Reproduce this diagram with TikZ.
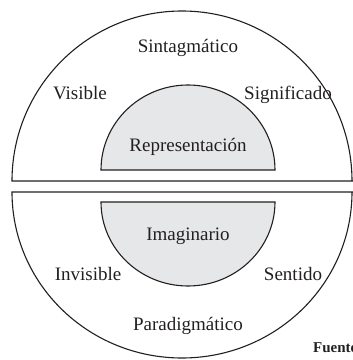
\documentclass[tikz,border=0pt]{standalone}
\usepackage{fontspec}
\setmainfont{Liberation Serif}
\definecolor{inkc}{HTML}{231F20}
\definecolor{fillgray}{HTML}{E6E7E8}
\tikzset{
  outline/.style={draw=inkc, line width=1.1pt},
  core/.style={draw=inkc, line width=1.1pt, fill=fillgray},
  lbl/.style={inner sep=0pt, anchor=base, text=inkc, font=\fontsize{19}{22}\selectfont},
  src/.style={inner sep=0pt, anchor=base west, text=inkc, font=\fontsize{15}{18}\selectfont\bfseries}
}
\begin{document}
\begin{tikzpicture}[x=1pt,y=1pt]
\useasboundingbox (0,0) rectangle (353,360);
\clip (0,0) rectangle (353,360);
% upper outer half disc
\draw[outline] (12,179) arc[start angle=180, end angle=0, radius=170] -- (360,179) -- cycle;
% lower outer half disc
\draw[outline] (12,168) arc[start angle=180, end angle=360, x radius=170, y radius=166] -- (360,168) -- cycle;
% inner grey halves
\draw[core] (101,190) arc[start angle=180, end angle=0, x radius=87, y radius=85] -- cycle;
\draw[core] (101,158) arc[start angle=180, end angle=360, x radius=87, y radius=84] -- cycle;
% labels
\node[lbl] (sint) at (188,308) {Sintagmático};
\node[lbl] (vis) at (80,261) {Visible};
\node[lbl] (sig) at (288,261) {Significado};
\node[lbl] (rep) at (188,209) {Representación};
\node[lbl] (ima) at (188,120) {Imaginario};
\node[lbl] (inv) at (88,80) {Invisible};
\node[lbl] (sen) at (293,80) {Sentido};
\node[lbl] (par) at (188,30) {Paradigmático};
\node[src] (fue) at (313,7) {Fuente};
\end{tikzpicture}
\end{document}
